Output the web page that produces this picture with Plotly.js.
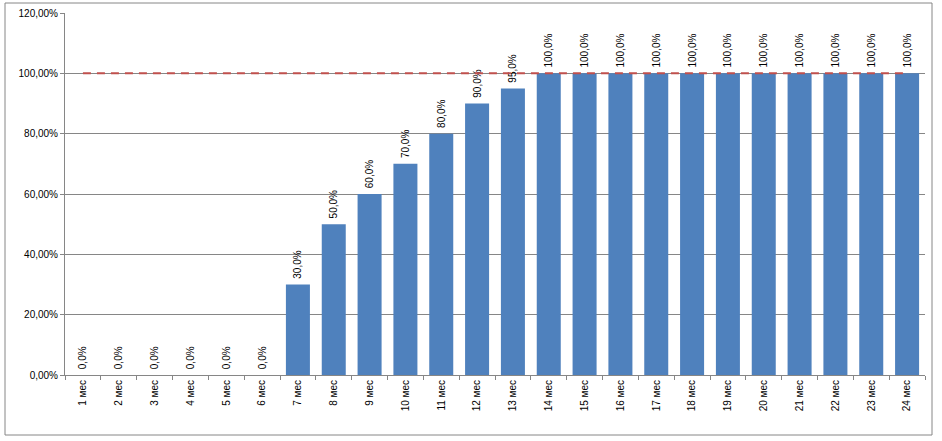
<!DOCTYPE html>
<html>
<head>
<meta charset="utf-8">
<script src="https://cdn.plot.ly/plotly-3.0.1.min.js"></script>
<style>html,body{margin:0;padding:0;background:#fff;}#chart{width:942px;height:441px;}</style>
</head>
<body>
<div id="chart"></div>
<script>
var months = ["1 мес","2 мес","3 мес","4 мес","5 мес","6 мес","7 мес","8 мес","9 мес","10 мес","11 мес","12 мес","13 мес","14 мес","15 мес","16 мес","17 мес","18 мес","19 мес","20 мес","21 мес","22 мес","23 мес","24 мес"];
var shares = [0,0,0,0,0,0,0.30,0.50,0.60,0.70,0.80,0.90,0.95,1,1,1,1,1,1,1,1,1,1,1];
var target = [1,1,1,1,1,1,1,1,1,1,1,1,1,1,1,1,1,1,1,1,1,1,1,1];
var yTicks = [0,0.2,0.4,0.6,0.8,1.0,1.2];

var font = "Liberation Sans, Arial, sans-serif";
var data = [
  {
    type: "bar",
    x: months,
    y: shares,
    marker: {color: "#4F81BD"},
    texttemplate: "\u00a0%{y:.1%}",
    textposition: "outside",
    textangle: -90,
    constraintext: "none",
    cliponaxis: false,
    textfont: {family: font, size: 10, color: "#000"},
    hoverinfo: "skip"
  },
  {
    type: "scatter",
    mode: "lines",
    x: months,
    y: target,
    line: {color: "#C0504D", width: 2, dash: "8px,6px"},
    hoverinfo: "skip"
  }
];
var layout = {
  width: 942,
  height: 441,
  margin: {l: 65, r: 17, t: 13, b: 66},
  paper_bgcolor: "#fff",
  plot_bgcolor: "#fff",
  showlegend: false,
  bargap: 0.33,
  separators: ", ",
  font: {family: font, size: 10, color: "#000"},
  xaxis: {
    type: "category",
    tickangle: -90,
    ticks: "outside",
    tickson: "boundaries",
    ticklen: 4,
    tickcolor: "#868686",
    showline: true,
    linecolor: "#868686",
    linewidth: 1,
    showgrid: false,
    tickfont: {family: font, size: 10, color: "#000"},
    fixedrange: true
  },
  yaxis: {
    range: [0, 1.2],
    tickvals: yTicks,
    tickformat: ".2%",
    ticks: "outside",
    ticklen: 4,
    tickcolor: "#868686",
    showline: true,
    linecolor: "#868686",
    linewidth: 1,
    showgrid: true,
    gridcolor: "#868686",
    gridwidth: 1,
    zeroline: false,
    tickfont: {family: font, size: 10, color: "#000"},
    fixedrange: true
  },
  shapes: [{
    type: "rect",
    xref: "paper", yref: "paper",
    x0: (5 - 65) / 860, x1: (932 - 65) / 860,
    y0: (375 - 435) / 362, y1: (375 - 3) / 362,
    line: {color: "#868686", width: 1},
    fillcolor: "rgba(0,0,0,0)",
    layer: "below"
  }]
};
Plotly.newPlot("chart", data, layout, {displayModeBar: false, staticPlot: true});
</script>
</body>
</html>
